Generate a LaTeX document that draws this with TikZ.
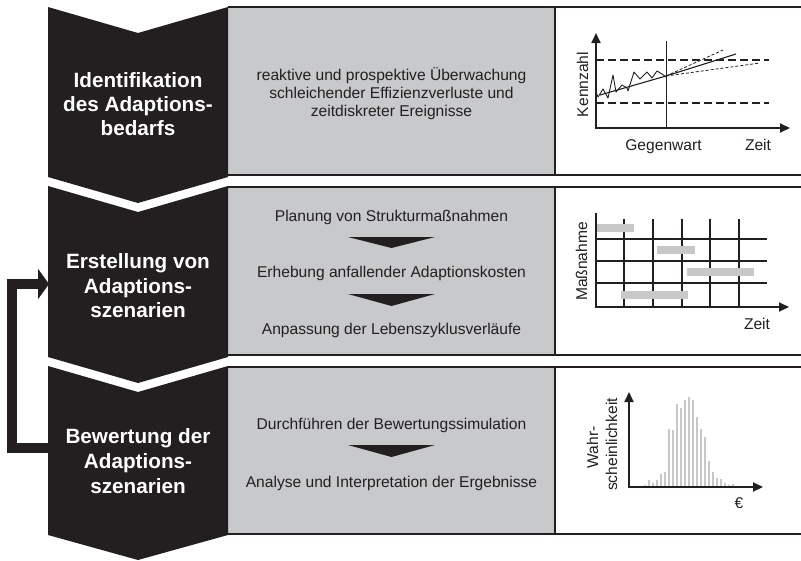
\documentclass[tikz,border=0pt]{standalone}
\usepackage{fontspec}
\setmainfont{Liberation Sans}
\usetikzlibrary{arrows.meta}
\definecolor{ink}{RGB}{35,31,32}
\definecolor{panelgray}{RGB}{200,201,203}
\definecolor{bargray}{RGB}{200,200,200}
\begin{document}
\begin{tikzpicture}[x=1pt,y=-1pt,
  chev/.style={fill=ink},
  panelline/.style={draw=ink, line width=1.2pt},
  ctext/.style={text=white, font=\fontsize{20.7}{24}\selectfont\bfseries, anchor=base, inner sep=0pt},
  ptext/.style={text=ink, font=\fontsize{15.6}{18}\selectfont, anchor=base, inner sep=0pt},
  gtext/.style={text=ink, font=\fontsize{15.6}{18}\selectfont, anchor=base, inner sep=0pt},
  steparrow/.style={fill=ink},
  axis/.style={draw=ink, line width=2pt},
  axtip/.style={-{Triangle[length=10pt,width=9pt]}},
  grid/.style={draw=ink, line width=1.2pt},
  refline/.style={draw=ink, line width=1.5pt, dash pattern=on 8pt off 4pt},
  fcast/.style={draw=ink, line width=0.8pt, dash pattern=on 3pt off 2pt},
  bar/.style={fill=bargray},
  loop/.style={draw=ink, line width=10pt, -{Triangle[length=11pt,width=30pt]}}
]
\useasboundingbox (0,0) rectangle (801,560);

% ---------- panels ----------
\foreach \t/\b in {7/175, 187/355, 367/534} {
  \fill[panelgray] (228,\t) rectangle (555,\b);
  \draw[panelline] (228,\t) -- (806,\t) (228,\b) -- (806,\b) (555,\t) -- (555,\b);
}

% ---------- chevrons ----------
\fill[chev] (48,7) -- (138,33) -- (228,7) -- (228,177) -- (138,203) -- (48,177) -- cycle;
\fill[chev] (48,186) -- (138,212) -- (228,186) -- (228,357) -- (138,383) -- (48,357) -- cycle;
\fill[chev] (48,366) -- (138,392) -- (228,366) -- (228,535) -- (138,560) -- (48,535) -- cycle;

\node[ctext] (c1a) at (138,87) {Identifikation};
\node[ctext] (c1b) at (138,111) {des Adaptions-};
\node[ctext] (c1c) at (138,135) {bedarfs};
\node[ctext] (c2a) at (138,268) {Erstellung von};
\node[ctext] (c2b) at (138,293) {Adaptions-};
\node[ctext] (c2c) at (138,317) {szenarien};
\node[ctext] (c3a) at (138,443) {Bewertung der};
\node[ctext] (c3b) at (138,468) {Adaptions-};
\node[ctext] (c3c) at (138,493) {szenarien};

% ---------- loop arrow ----------
\coordinate (loopStart) at (49,448);
\coordinate (loopEnd) at (49,284);
\draw[loop] (loopStart) -- (12,448) |- (loopEnd);

% ---------- gray panel texts ----------
\node[ptext] (p1a) at (391.5,80) {reaktive und prospektive Überwachung};
\node[ptext] (p1b) at (391.5,98) {schleichender Effizienzverluste und};
\node[ptext] (p1c) at (391.5,116) {zeitdiskreter Ereignisse};

\node[ptext] (p2a) at (391.5,221) {Planung von Strukturmaßnahmen};
\fill[steparrow] (348,237) -- (435,237) -- (391.5,248) -- cycle;
\node[ptext] (p2b) at (391.5,277) {Erhebung anfallender Adaptionskosten};
\fill[steparrow] (348,294) -- (435,294) -- (391.5,306) -- cycle;
\node[ptext] (p2c) at (391.5,334) {Anpassung der Lebenszyklusverläufe};

\node[ptext] (p3a) at (391.5,429) {Durchführen der Bewertungssimulation};
\fill[steparrow] (348,445) -- (435,445) -- (391.5,457) -- cycle;
\node[ptext] (p3b) at (391.5,487) {Analyse und Interpretation der Ergebnisse};

% ---------- chart 1 ----------
\draw[refline] (596,60) -- (769,60);
\draw[refline] (596,103) -- (769,103);
\draw[draw=ink, line width=0.9pt] (666,41) -- (666,128);
\draw[draw=ink, line width=0.9pt, line join=round] (596,92)--(598,97)--(603,89)--(608,98)--(613,75)--(616,92)--(622,85)--(627,88)--(628,91)--(634,72)--(640,79)--(647,72)--(652,78)--(657,71)--(662,74)--(666,77);
\draw[draw=ink, line width=1.1pt] (600,95) -- (666,76) -- (736,54);
\draw[fcast] (666,76) -- (723,50);
\draw[fcast] (666,76) -- (760,63);
\draw[axis, {Triangle[length=10pt,width=9pt]}-{Triangle[length=10pt,width=9pt]}] (596,33) -- (596,128) -- (790,128);
\node[gtext, rotate=90] (k1) at (588,84.5) {Kennzahl};
\node[gtext] (g1) at (663.5,150) {Gegenwart};
\node[gtext] (z1) at (758,150) {Zeit};

% ---------- chart 2 ----------
\foreach \x in {624,653,682,710,739} \draw[grid] (\x,219) -- (\x,307);
\foreach \y in {239,261,283} \draw[grid] (596,\y) -- (767,\y);
\fill[bar] (597,224) rectangle (634,232);
\fill[bar] (657,246) rectangle (695,254);
\fill[bar] (687,268) rectangle (754,276);
\fill[bar] (621,291) rectangle (688,299);
\draw[axis, axtip] (596,213) -- (596,307) -- (789,307);
\node[gtext, rotate=90] (m2) at (587,261.5) {Maßnahme};
\node[gtext] (z2) at (757,329) {Zeit};

% ---------- chart 3 ----------
\foreach \x/\t in {645/485, 649/480, 653/483, 657/480, 661/474, 665/472, 669/429, 673/430, 677/404, 681/408, 685/400, 689/397, 693/400, 697/417, 701/429, 705/437, 709/461, 713/472, 717/478, 721/479, 725/483, 729/485, 733/484}
  \fill[bar] (\x-1.4,\t) rectangle (\x+1.4,487);
\draw[axis, {Triangle[length=10pt,width=9pt]}-{Triangle[length=10pt,width=9pt]}] (629,392) -- (629,487) -- (763,487);
\node[gtext, rotate=90] (w3a) at (598,447.5) {Wahr-};
\node[gtext, rotate=90] (w3b) at (617,444.5) {scheinlichkeit};
\node[gtext] (e3) at (739,508) {€};
\end{tikzpicture}
\end{document}
